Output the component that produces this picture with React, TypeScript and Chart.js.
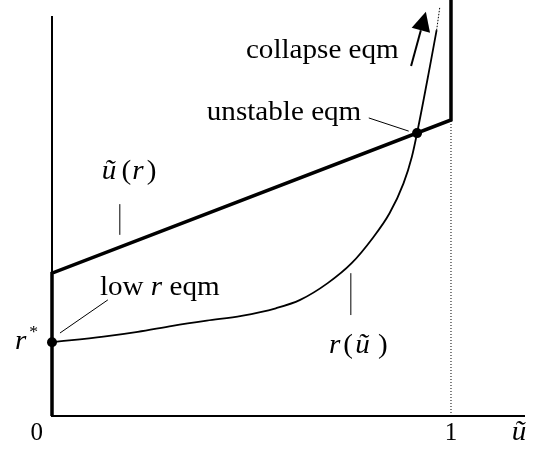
import { useEffect, useRef } from "react";
import { Chart, registerables } from "chart.js";

Chart.register(...registerables);

// Horizontal axis: ũ (0 … 1 marked), vertical axis: r
const uAxisMax = 1.183;
const rAxisMax = 1;

// Thick schedule: r* floor on the axis, ũ(r) line, then vertical at ũ = 1
const scheduleU = [0, 0, 1, 1];
const scheduleR = [0, 0.358, 0.742, 1.043];

// r(ũ) curve
const rCurveU = [0, 0.129, 0.215, 0.302, 0.388, 0.475, 0.561, 0.622, 0.691, 0.751, 0.803, 0.846, 0.881, 0.902, 0.915, 0.947, 0.964];
const rCurveR = [0.185, 0.199, 0.211, 0.226, 0.239, 0.251, 0.27, 0.291, 0.333, 0.383, 0.445, 0.508, 0.583, 0.65, 0.709, 0.875, 0.967];
const rCurveTailU = [0.964, 0.972];
const rCurveTailR = [0.967, 1.025];

// dotted guide at ũ = 1
const guideU = [1, 1];
const guideR = [0, 0.742];

// equilibrium points: low r (r*) and unstable
const eqmU = [0, 0.915];
const eqmR = [0.185, 0.709];

// axis tick labels
const tickValues = [0, 1];
const tickLabels = ["0", "1"];

const zip = (xs: number[], ys: number[]) => xs.map((x, i) => ({ x, y: ys[i] }));

type Part = { text: string; italic?: boolean; gap?: number; size?: number; dy?: number };
type Label = { u: number; r: number; parts: Part[]; center?: boolean; size?: number; stretch?: number };

const SERIF = '"Liberation Serif", "Times New Roman", serif';

const labels: Label[] = [
  { u: 0.486, r: 0.8965, parts: [{ text: "collapse eqm" }] },
  { u: 0.388, r: 0.742, parts: [{ text: "unstable eqm" }] },
  {
    u: 0.1246,
    r: 0.593,
    parts: [
      { text: "ũ", italic: true, gap: 5 },
      { text: "(", gap: 1 },
      { text: "r", italic: true, gap: 3 },
      { text: ")" },
    ],
  },
  {
    u: 0.12,
    r: 0.303,
    parts: [{ text: "low " }, { text: "r", italic: true }, { text: " eqm" }],
  },
  {
    u: 0.694,
    r: 0.158,
    parts: [
      { text: "r", italic: true, gap: 3 },
      { text: "(", gap: 2 },
      { text: "ũ", italic: true, gap: 8 },
      { text: ")" },
    ],
  },
  {
    u: -0.093,
    r: 0.168,
    parts: [{ text: "r", italic: true, gap: 3 }, { text: "*", size: 17, dy: -12 }],
  },
  { u: 1.152, r: -0.06, parts: [{ text: "ũ", italic: true }] },
];

const leaders: [number, number, number, number][] = [
  [0.794, 0.747, 0.894, 0.714],
  [0.17, 0.454, 0.17, 0.531],
  [0.14, 0.291, 0.02, 0.208],
  [0.749, 0.253, 0.749, 0.358],
];

const arrowFrom = { u: 0.9, r: 0.877 };
const arrowTo = { u: 0.937, r: 1.013 };

const annotations = {
  id: "annotations",
  afterDatasetsDraw(chart: Chart) {
    const { ctx } = chart;
    const xs = chart.scales.x;
    const ys = chart.scales.y;
    const px = (u: number) => xs.getPixelForValue(u);
    const py = (r: number) => ys.getPixelForValue(r);
    ctx.save();
    ctx.fillStyle = "#000";
    ctx.strokeStyle = "#000";

    // leader lines
    ctx.lineWidth = 1;
    for (const [u1, r1, u2, r2] of leaders) {
      ctx.beginPath();
      ctx.moveTo(px(u1), py(r1));
      ctx.lineTo(px(u2), py(r2));
      ctx.stroke();
    }

    // arrow towards the collapse equilibrium
    const x0 = px(arrowFrom.u), y0 = py(arrowFrom.r);
    const x1 = px(arrowTo.u), y1 = py(arrowTo.r);
    const ang = Math.atan2(y1 - y0, x1 - x0);
    const headLen = 19, headHalf = 9.5;
    const bx = x1 - headLen * Math.cos(ang), by = y1 - headLen * Math.sin(ang);
    ctx.lineWidth = 2;
    ctx.beginPath();
    ctx.moveTo(x0, y0);
    ctx.lineTo(bx, by);
    ctx.stroke();
    ctx.beginPath();
    ctx.moveTo(x1, y1);
    ctx.lineTo(bx + headHalf * Math.sin(ang), by - headHalf * Math.cos(ang));
    ctx.lineTo(bx - headHalf * Math.sin(ang), by + headHalf * Math.cos(ang));
    ctx.closePath();
    ctx.fill();

    // text labels
    ctx.textBaseline = "alphabetic";
    ctx.textAlign = "left";
    const drawLabel = (lab: Label) => {
      const size = lab.size ?? 28;
      const stretch = lab.stretch ?? 1.04;
      const font = (p: Part) => `${p.italic ? "italic " : ""}${p.size ?? size}px ${SERIF}`;
      let total = 0;
      for (const p of lab.parts) {
        ctx.font = font(p);
        total += ctx.measureText(p.text).width + (p.gap ?? 0);
      }
      ctx.save();
      ctx.translate(px(lab.u), py(lab.r));
      ctx.scale(stretch, 1);
      let off = lab.center ? -total / 2 : 0;
      for (const p of lab.parts) {
        ctx.font = font(p);
        ctx.fillText(p.text, off, p.dy ?? 0);
        off += ctx.measureText(p.text).width + (p.gap ?? 0);
      }
      ctx.restore();
    };
    labels.forEach(drawLabel);

    // tick labels on the ũ axis
    const tickOffsets = [-0.038, 0];
    tickValues.forEach((v, i) => {
      drawLabel({ u: v + tickOffsets[i], r: -0.06, parts: [{ text: tickLabels[i] }], center: true, size: 25, stretch: 1 });
    });
    ctx.restore();
  },
};

export default function App() {
  const canvasRef = useRef<HTMLCanvasElement | null>(null);

  useEffect(() => {
    const canvas = canvasRef.current;
    if (!canvas) return;
    const chart = new Chart(canvas, {
      type: "line",
      data: {
        datasets: [
          {
            data: zip(guideU, guideR),
            borderColor: "#000",
            borderWidth: 1,
            borderDash: [1, 2],
            pointRadius: 0,
            clip: false,
          },
          {
            data: zip(scheduleU, scheduleR),
            borderColor: "#000",
            borderWidth: 3.5,
            borderJoinStyle: "miter",
            pointRadius: 0,
            tension: 0,
            clip: false,
          },
          {
            data: zip(rCurveU, rCurveR),
            borderColor: "#000",
            borderWidth: 1.8,
            pointRadius: 0,
            cubicInterpolationMode: "monotone",
            clip: false,
          },
          {
            data: zip(rCurveTailU, rCurveTailR),
            borderColor: "#000",
            borderWidth: 1,
            borderDash: [1.5, 1.5],
            pointRadius: 0,
            clip: false,
          },
          {
            data: zip(eqmU, eqmR),
            showLine: false,
            pointRadius: 5,
            pointBackgroundColor: "#000",
            pointBorderColor: "#000",
            pointBorderWidth: 0,
            clip: false,
          },
        ],
      },
      options: {
        animation: false,
        responsive: false,
        devicePixelRatio: 1,
        events: [],
        layout: { padding: { left: 52, top: 17, right: 16, bottom: 34 } },
        plugins: { legend: { display: false }, tooltip: { enabled: false } },
        scales: {
          x: {
            type: "linear",
            min: 0,
            max: uAxisMax,
            grid: { display: false, drawTicks: false, tickLength: 0 },
            ticks: { display: false },
            border: { display: true, color: "#000", width: 2 },
          },
          y: {
            type: "linear",
            min: 0,
            max: rAxisMax,
            grid: { display: false, drawTicks: false, tickLength: 0 },
            ticks: { display: false },
            border: { display: true, color: "#000", width: 2 },
          },
        },
      },
      plugins: [annotations],
    });
    return () => chart.destroy();
  }, []);

  return (
    <div style={{ position: "fixed", left: 0, top: 0, width: 540, height: 450, background: "#fff" }}>
      <canvas ref={canvasRef} width={540} height={450} style={{ width: 540, height: 450, display: "block" }} />
    </div>
  );
}
